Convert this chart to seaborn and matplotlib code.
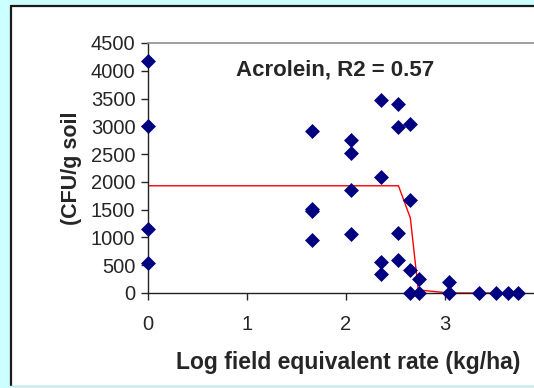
import matplotlib
matplotlib.use("Agg")
import matplotlib.pyplot as plt
from matplotlib.lines import Line2D
from matplotlib.patches import Rectangle
import pandas as pd
import seaborn as sns

# 측정값 (Log field equivalent rate vs CFU/g soil)
rate = [0, 0, 0, 0,
        1.66, 1.66, 1.66, 1.66,
        2.05, 2.05, 2.05, 2.05,
        2.35, 2.35, 2.35, 2.35,
        2.53, 2.53, 2.53, 2.53,
        2.65, 2.65, 2.65, 2.65,
        2.74, 2.74,
        3.04, 3.04,
        3.34, 3.52, 3.64, 3.74]
cfu = [4175, 3014, 1154, 540,
       2922, 1516, 1475, 958,
       2763, 2529, 1860, 1056,
       3469, 2087, 552, 350,
       3407, 2984, 1087, 602,
       3051, 1670, 411, 0,
       258, 0,
       196, 0,
       0, 0, 0, 0]

# 적합 곡선
fit_x = [0, 1.66, 2.05, 2.35, 2.53, 2.65, 2.73, 3.04, 3.34, 3.52, 3.64, 3.74]
fit_y = [1930, 1930, 1930, 1930, 1930, 1350, 55, 0, 0, 0, 0, 0]

yticks = [0, 500, 1000, 1500, 2000, 2500, 3000, 3500, 4000, 4500]
xticks = [0, 1, 2, 3]

pts = pd.DataFrame({"rate": rate, "cfu": cfu})
fit = pd.DataFrame({"rate": fit_x, "cfu": fit_y})

sns.set_style("ticks")
plt.rcParams["font.family"] = ["Liberation Sans", "DejaVu Sans"]

W, H = 534, 388
fig = plt.figure(figsize=(W / 100, H / 100), dpi=100)
fig.patch.set_facecolor("#ccffff")

# 흰 패널 + 테두리
fig.patches.append(Rectangle((10.5 / W, 1 - 385 / H), 1, (385 - 5.5) / H,
                             transform=fig.transFigure, facecolor="white",
                             edgecolor="none", zorder=-5))
fig.lines.append(Line2D([10.5 / W, 10.5 / W], [1 - 385 / H, 1 - 5.5 / H],
                        transform=fig.transFigure, color="#1a1a1a", lw=1.6))
fig.lines.append(Line2D([10.5 / W, 1], [1 - 5.5 / H, 1 - 5.5 / H],
                        transform=fig.transFigure, color="#1a1a1a", lw=1.6))
fig.lines.append(Line2D([10.5 / W, 1], [1 - 385.5 / H, 1 - 385.5 / H],
                        transform=fig.transFigure, color="#dddddd", lw=1))

ax = fig.add_axes([148 / W, 1 - 293 / H, 396 / W, 250 / H])
ax.set_facecolor("none")

sns.lineplot(data=fit, x="rate", y="cfu", color="red", lw=1, ax=ax, zorder=2)
sns.scatterplot(data=pts, x="rate", y="cfu", marker="D", s=58, color="#000080",
                edgecolor="#000080", linewidth=0, ax=ax, zorder=3, clip_on=False)

ax.set_xlim(0, 4)
ax.set_ylim(0, 4500)
ax.set_xticks(xticks)
ax.set_yticks(yticks)
ax.tick_params(axis="y", direction="out", length=5, width=1, pad=4, labelsize=14.5)
ax.tick_params(axis="x", direction="out", length=5, width=1, pad=11, labelsize=14.5)

for s in ["left", "bottom"]:
    ax.spines[s].set_color("#222222")
    ax.spines[s].set_linewidth(1)
ax.spines["top"].set_color("#909090")
ax.spines["top"].set_linewidth(1.2)
ax.spines["right"].set_visible(False)

ax.text(1.89, 4010, "Acrolein, R2 = 0.57", ha="center", va="center",
        fontsize=16, fontweight="bold")

ax.set_xlabel("Log field equivalent rate (kg/ha)", fontsize=16.5, fontweight="bold")
ax.xaxis.set_label_coords((348 - 148) / 396, (293 - 362) / 250)
ax.xaxis.label.set_va("center")
ax.set_ylabel("(CFU/g soil", fontsize=15.5, fontweight="bold")
ax.yaxis.set_label_coords((71 - 148) / 396, (293 - 168) / 250)
ax.yaxis.label.set_va("center")

fig.savefig("out.png", dpi=100, facecolor=fig.get_facecolor())
